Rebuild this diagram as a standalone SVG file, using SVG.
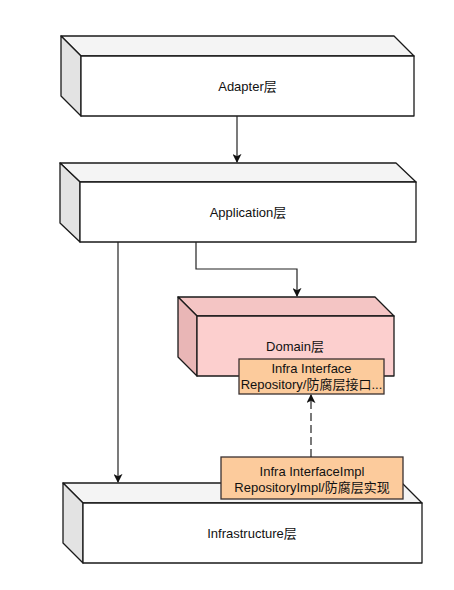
<svg xmlns="http://www.w3.org/2000/svg" width="454" height="590" viewBox="0 0 454 590">
<style>
.edge{stroke:#222;stroke-width:1.2;fill:none}
.ln{stroke:#1a1a1a;stroke-width:1.3;stroke-linejoin:round}
.wf{fill:#ffffff}.wt{fill:#f4f4f4}.ws{fill:#e3e3e3}
.pf{fill:#fccfce}.pt{fill:#f4c5c4}.ps{fill:#e9b6b6}
.ob{fill:#fccb9c;stroke:#3a3030;stroke-width:1.3}
text{font-family:"Liberation Sans","Noto Sans CJK SC",sans-serif;font-size:13px;fill:#111;text-anchor:middle}
</style>
<defs>
<marker id="arr" viewBox="0 0 10 10" refX="9" refY="5" markerWidth="9" markerHeight="9" markerUnits="userSpaceOnUse" orient="auto">
<path d="M0,0 L10,5 L0,10 L2.5,5 z" fill="#111"/>
</marker>
</defs>
<rect width="454" height="590" fill="#ffffff"/>
<g id="adapter">
<polygon class="wt ln" points="61,36 394,36 414,56 81,56"/>
<polygon class="ws ln" points="61,36 81,56 81,116 61,96"/>
<rect class="wf ln" x="81" y="56" width="333" height="60"/>
<text x="247.5" y="91">Adapter层</text>
</g>
<g id="application">
<polygon class="wt ln" points="60,163 396,163 416,182 80,182"/>
<polygon class="ws ln" points="60,163 80,182 80,242 60,223"/>
<rect class="wf ln" x="80" y="182" width="336" height="60"/>
<text x="248" y="217">Application层</text>
</g>
<g id="domain">
<polygon class="pt ln" points="178,297 375,297 394,316 197,316"/>
<polygon class="ps ln" points="178,297 197,316 197,376 178,357"/>
<rect class="pf ln" x="197" y="316" width="197" height="60"/>
<text x="295" y="351">Domain层</text>
</g>
<g id="infrastructure">
<polygon class="wt ln" points="63,483 402,483 422,503 83,503"/>
<polygon class="ws ln" points="63,483 83,503 83,563 63,543"/>
<rect class="wf ln" x="83" y="503" width="339" height="60"/>
<text x="252" y="538">Infrastructure层</text>
</g>
<g id="infra-interface">
<rect class="ob" x="239" y="359" width="145" height="35"/>
<text x="311.5" y="373">Infra Interface</text>
<text x="311.5" y="389">Repository/防腐层接口...</text>
</g>
<g id="infra-impl">
<rect class="ob" x="221" y="457" width="182" height="42"/>
<text x="312" y="476">Infra InterfaceImpl</text>
<text x="312" y="492">RepositoryImpl/防腐层实现</text>
</g>
<g id="connectors">
<path class="edge" d="M237,116 V162" marker-end="url(#arr)"/>
<path class="edge" d="M196,242 V269 H297 V296" marker-end="url(#arr)" stroke="#444"/>
<path class="edge" d="M118,242 V482" marker-end="url(#arr)"/>
<path class="edge" d="M311,457 V395" stroke="#666" stroke-dasharray="8 4" marker-end="url(#arr)"/>
</g>
</svg>
